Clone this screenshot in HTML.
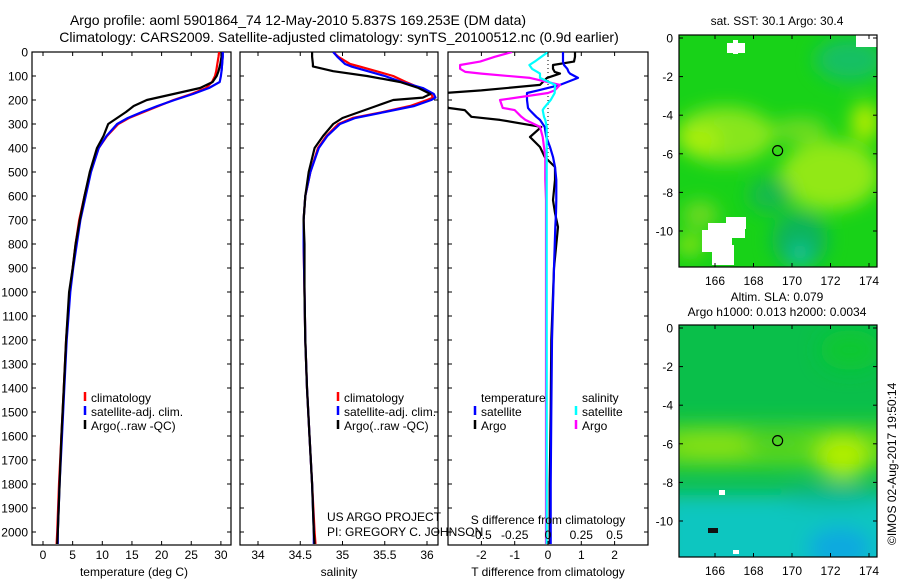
<!DOCTYPE html>
<html><head><meta charset="utf-8"><title>Argo profile</title>
<style>
html,body{margin:0;padding:0;background:#fff;}
svg{display:block;font-family:"Liberation Sans",sans-serif;}
text{fill:#000;}
</style></head>
<body>
<svg id="fig" width="900" height="580" viewBox="0 0 900 580" xmlns="http://www.w3.org/2000/svg">
<defs>
<clipPath id="c1"><rect x="32" y="52" width="199" height="493"/></clipPath>
<clipPath id="c2"><rect x="240" y="52" width="198" height="493"/></clipPath>
<clipPath id="c3"><rect x="448" y="52" width="200" height="493"/></clipPath>
<clipPath id="m1"><rect x="679" y="35" width="198" height="232"/></clipPath>
<clipPath id="m2"><rect x="679" y="325" width="198" height="232"/></clipPath>
<filter id="bl" x="-50%" y="-50%" width="200%" height="200%"><feGaussianBlur stdDeviation="10"/></filter>
<filter id="bl2" x="-50%" y="-50%" width="200%" height="200%"><feGaussianBlur stdDeviation="9"/></filter>
</defs>
<text x="298" y="25" font-size="14" text-anchor="middle">Argo profile: aoml 5901864_74 12-May-2010 5.837S 169.253E (DM data)</text>
<text x="339" y="42" font-size="14" text-anchor="middle">Climatology: CARS2009. Satellite-adjusted climatology: synTS_20100512.nc (0.9d earlier)</text>
<g id="g1"></g>
<g id="g2"></g>
<g id="g3"></g>
<g id="map1" clip-path="url(#m1)">
<rect x="679" y="35" width="198" height="232" fill="#18d218"/>
<g filter="url(#bl2)">
<ellipse cx="725" cy="135" rx="50" ry="28" fill="#88e61c"/>
<ellipse cx="830" cy="175" rx="50" ry="35" fill="#92e814"/>
<ellipse cx="700" cy="140" rx="20" ry="15" fill="#a8ee08"/>
<ellipse cx="865" cy="122" rx="14" ry="20" fill="#b0ec00"/>
<ellipse cx="800" cy="130" rx="28" ry="12" fill="#70dc22"/>
<ellipse cx="850" cy="60" rx="35" ry="22" fill="#14c064"/>
<ellipse cx="800" cy="240" rx="28" ry="28" fill="#10b45c"/>
<ellipse cx="800" cy="255" rx="10" ry="12" fill="#14c49c"/>
<ellipse cx="770" cy="195" rx="22" ry="18" fill="#14ba4c"/>
<ellipse cx="700" cy="215" rx="18" ry="14" fill="#70da22"/>
<ellipse cx="690" cy="245" rx="14" ry="10" fill="#90e414"/>
</g>
<rect x="727" y="43" width="18" height="10" fill="#fff"/>
<rect x="733" y="40" width="5" height="14" fill="#fff"/>
<rect x="856" y="35" width="21" height="12" fill="#fff"/>
<rect x="708" y="223" width="37" height="15" fill="#fff"/>
<rect x="702" y="230" width="30" height="22" fill="#fff"/>
<rect x="712" y="245" width="22" height="20" fill="#fff"/>
<rect x="726" y="217" width="20" height="12" fill="#fff"/>
</g>
<g id="map2" clip-path="url(#m2)">
<rect x="679" y="325" width="198" height="232" fill="#0abf4a"/>
<g filter="url(#bl)">
<rect x="660" y="425" width="240" height="42" fill="#5ad81c"/>
<ellipse cx="715" cy="445" rx="45" ry="14" fill="#84e012"/>
<ellipse cx="843" cy="457" rx="26" ry="22" fill="#b0ee00"/>
<ellipse cx="775" cy="440" rx="30" ry="12" fill="#4ed020"/>
<rect x="660" y="495" width="240" height="90" fill="#08c6c0"/>
<ellipse cx="840" cy="548" rx="32" ry="20" fill="#0aa8e0"/>
<ellipse cx="830" cy="495" rx="50" ry="10" fill="#08b88c"/>
<ellipse cx="850" cy="350" rx="30" ry="20" fill="#0cc830"/>
</g>
<rect x="719" y="490" width="6" height="5" fill="#fff"/>
<rect x="708" y="528" width="10" height="5" fill="#111"/>
<rect x="733" y="550" width="6" height="4" fill="#fff"/>
</g>
<g id="mapAxes"></g>
<text transform="translate(896,545) rotate(-90)" font-size="12">©IMOS 02-Aug-2017 19:50:14</text>
<text x="327" y="521" font-size="12">US ARGO PROJECT</text>
<text x="327" y="536" font-size="12">PI: GREGORY C. JOHNSON</text>
</svg>
<script>
// ---------- data ----------
const depthT = [0,20,50,80,100,125,150,175,200,225,250,275,300,350,400,500,600,700,800,900,1000,1200,1400,1600,1800,2000,2050];
const tempArgo = [30.1,30.1,29.9,29.6,29.3,28.6,26.5,22.0,17.5,15.3,14.0,12.5,11.0,10.2,9.1,7.9,7.0,6.2,5.5,5.0,4.4,3.9,3.5,3.1,2.8,2.5,2.4];
const tempClim = [29.7,29.6,29.4,29.2,29.0,28.5,27.5,25.0,22.0,19.5,17.0,14.5,12.7,10.8,9.4,8.0,7.0,6.1,5.5,5.0,4.5,3.9,3.5,3.1,2.7,2.4,2.3];
const tempSat = [30.3,30.3,30.2,30.1,30.0,29.8,28.0,25.3,22.2,19.3,16.7,14.3,12.5,10.7,9.4,8.1,7.2,6.3,5.7,5.1,4.6,4.0,3.6,3.2,2.8,2.5,2.5];
const depthS = [0,20,50,60,80,100,125,150,175,190,200,225,250,275,300,350,400,500,600,700,800,1000,1200,1400,1600,1800,2000,2050];
const salArgo = [34.64,34.64,34.65,34.65,34.89,35.29,35.68,35.90,36.04,35.95,35.6,35.4,35.2,35.0,34.89,34.77,34.67,34.60,34.56,34.54,34.55,34.55,34.56,34.58,34.61,34.64,34.66,34.67];
const salClim = [34.89,34.95,35.09,35.2,35.4,35.6,35.75,35.92,36.05,36.07,36.0,35.8,35.48,35.12,34.95,34.81,34.71,34.62,34.56,34.54,34.54,34.55,34.56,34.58,34.61,34.64,34.67,34.68];
const salSat = [34.89,34.94,35.03,35.1,35.3,35.5,35.7,35.95,36.08,36.1,36.05,35.85,35.5,35.15,34.97,34.82,34.72,34.62,34.56,34.54,34.54,34.55,34.56,34.58,34.61,34.64,34.66,34.66];
const depthD = [0,20,40,54,70,83,90,108,137,160,171,200,233,242,270,283,312,354,396,437,479,533,617,671,729,900,1200,1500,1800,2050];
const tDiffArgo = [0.81,0.81,0.78,0.15,0.15,0.2,0.36,-0.03,-0.24,-2.0,-3.1,-3.1,-3.0,-2.5,-2.3,-1.44,-0.2,-0.54,-0.24,-0.1,0.21,0.21,0.15,0.21,0.3,0.18,0.1,0.08,0.05,0.05];
const tDiffSat = [0.45,0.45,0.45,0.48,0.58,0.62,0.66,0.9,0.36,-0.3,-0.63,-0.63,-0.6,-0.55,-0.35,-0.24,-0.1,-0.05,0.06,0.15,0.21,0.25,0.25,0.24,0.22,0.18,0.12,0.1,0.08,0.08];
const sDiffArgo = [-0.27,-0.4,-0.51,-0.66,-0.66,-0.62,-0.5,-0.135,0.09,0.05,0.0,-0.36,-0.34,-0.25,-0.2,-0.17,-0.06,-0.04,-0.03,-0.02,-0.02,-0.02,-0.015,-0.015,-0.015,-0.015,-0.015,-0.015,-0.015,-0.015];
const sDiffSat = [0.0,-0.05,-0.1,-0.14,-0.12,-0.08,-0.06,-0.06,0.055,0.05,0.05,0.02,-0.03,-0.04,-0.03,-0.02,-0.01,-0.01,-0.01,-0.01,-0.01,-0.01,-0.01,-0.01,-0.01,-0.01,-0.01,-0.01,-0.01,-0.01];
const depthTicks = [0,100,200,300,400,500,600,700,800,900,1000,1100,1200,1300,1400,1500,1600,1700,1800,1900,2000];
const tempTicks = [0,5,10,15,20,25,30];
const salTicks = [34,34.5,35,35.5,36];
const tDiffTicks = [-2,-1,0,1,2];
const sDiffTicks = [-0.5,-0.25,0,0.25,0.5];
const sDiffTickLabels = ["-0.5","-0.25","0","0.25","0.5"];
const lonTicks = [166,168,170,172,174];
const latTicks = [0,-2,-4,-6,-8,-10];
const argoLon = 169.253, argoLat = -5.837;

// ---------- scales ----------
const NS = "http://www.w3.org/2000/svg";
const yD = d => 52 + d * 0.24;
const xT = t => 43 + t * 5.93;
const xS = s => 258 + (s - 34) * 84.5;
const xTD = v => 548 + v * 33.3;
const xSD = v => 548 + v * 133.2;
const xLon = l => 715 + (l - 166) * 19.25;
const yLat1 = l => 38 - l * 19.3;
const yLat2 = l => 328 - l * 19.3;

function mk(tag, attrs, parent) {
  const e = document.createElementNS(NS, tag);
  for (const k in attrs) e.setAttribute(k, attrs[k]);
  parent.appendChild(e);
  return e;
}
function txt(s, x, y, anchor, size, parent) {
  const t = mk("text", {x: x, y: y, "text-anchor": anchor, "font-size": size}, parent);
  t.textContent = s;
  return t;
}
function profile(xs, ds, xf, color, parent, name) {
  const pts = xs.map((v, i) => xf(v).toFixed(1) + "," + yD(ds[i]).toFixed(1)).join(" ");
  const p = mk("polyline", {points: pts, fill: "none", stroke: color, "stroke-width": 2.2, "stroke-linejoin": "round"}, parent);
  
  
  return p;
}
function frame(g, x0, x1, withDepthLabels) {
  const r = mk("rect", {x: x0, y: 52, width: x1 - x0, height: 493, fill: "none", stroke: "#000", "stroke-width": 1.2}, g);
  
  
  depthTicks.forEach(d => {
    mk("line", {x1: x0, x2: x0 + 4, y1: yD(d), y2: yD(d), stroke: "#000"}, g);
    mk("line", {x1: x1 - 4, x2: x1, y1: yD(d), y2: yD(d), stroke: "#000"}, g);
    if (withDepthLabels) {
      const t = txt(String(d), x0 - 4, yD(d) + 4.5, "end", 12, g);
      
      
    }
  });
}
function xticks(g, vals, labels, xf, y) {
  vals.forEach((v, i) => {
    mk("line", {x1: xf(v), x2: xf(v), y1: 545, y2: 541, stroke: "#000"}, g);
    mk("line", {x1: xf(v), x2: xf(v), y1: 52, y2: 56, stroke: "#000"}, g);
    const t = txt(labels[i], xf(v), y, "middle", 12, g);
    
    
  });
}
function legendEntry(g, x, y, color, label) {
  const gg = mk("g", {}, g);
  
  
  if (color) mk("line", {x1: x - 6, x2: x - 6, y1: y - 10, y2: y - 1, stroke: color, "stroke-width": 2.5}, gg);
  txt(label, x, y, "start", 12, gg);
}

// ---------- panel 1 ----------
const g1 = document.getElementById("g1");
frame(g1, 32, 231, true);
const c1 = mk("g", {"clip-path": "url(#c1)"}, g1);
profile(tempClim, depthT, xT, "#f00", c1, "temp-climatology-line");
profile(tempSat, depthT, xT, "#00f", c1, "temp-satellite-line");
profile(tempArgo, depthT, xT, "#000", c1, "temp-argo-line");
profile(tempSat.slice(0, 4), depthT.slice(0, 4), xT, "#00f", c1, "temp-satellite-top");
xticks(g1, tempTicks, tempTicks.map(String), xT, 559);
const xl1 = txt("temperature (deg C)", 134, 576, "middle", 12, g1);


legendEntry(g1, 91, 402, "#f00", "climatology");
legendEntry(g1, 91, 416, "#00f", "satellite-adj. clim.");
legendEntry(g1, 91, 430, "#000", "Argo(..raw -QC)");

// ---------- panel 2 ----------
const g2 = document.getElementById("g2");
frame(g2, 240, 438, false);
const c2 = mk("g", {"clip-path": "url(#c2)"}, g2);
profile(salClim, depthS, xS, "#f00", c2, "sal-climatology-line");
profile(salSat, depthS, xS, "#00f", c2, "sal-satellite-line");
profile(salArgo, depthS, xS, "#000", c2, "sal-argo-line");
xticks(g2, salTicks, salTicks.map(String), xS, 559);
const xl2 = txt("salinity", 339, 576, "middle", 12, g2);


legendEntry(g2, 344, 402, "#f00", "climatology");
legendEntry(g2, 344, 416, "#00f", "satellite-adj. clim.");
legendEntry(g2, 344, 430, "#000", "Argo(..raw -QC)");

// ---------- panel 3 ----------
const g3 = document.getElementById("g3");
frame(g3, 448, 648, false);
const c3 = mk("g", {"clip-path": "url(#c3)"}, g3);
mk("line", {x1: xTD(0), x2: xTD(0), y1: 52, y2: 160, stroke: "#000", "stroke-dasharray": "1,3"}, c3);
profile(tDiffArgo, depthD, xTD, "#000", c3, "tdiff-argo-line");
profile(tDiffSat, depthD, xTD, "#00f", c3, "tdiff-satellite-line");
profile(sDiffArgo, depthD, xSD, "#f0f", c3, "sdiff-argo-line");
profile(sDiffSat, depthD, xSD, "#0ff", c3, "sdiff-satellite-line");
xticks(g3, tDiffTicks, tDiffTicks.map(String), xTD, 559);
sDiffTicks.forEach((v, i) => {
  const t = txt(sDiffTickLabels[i], xSD(v), 539, "middle", 12, g3);
  
  
});
const sl = txt("S difference from climatology", 548, 524, "middle", 12, g3);


const xl3 = txt("T difference from climatology", 548, 576, "middle", 12, g3);


legendEntry(g3, 481, 402, null, "temperature");
legendEntry(g3, 481, 416, "#00f", "satellite");
legendEntry(g3, 481, 430, "#000", "Argo");
legendEntry(g3, 582, 402, null, "salinity");
legendEntry(g3, 582, 416, "#0ff", "satellite");
legendEntry(g3, 582, 430, "#f0f", "Argo");

// ---------- maps ----------
const ma = document.getElementById("mapAxes");
function mapAxes(y0, yLat, title1, title2) {
  mk("rect", {x: 679, y: y0, width: 198, height: 232, fill: "none", stroke: "#000", "stroke-width": 1.2}, ma);
  lonTicks.forEach(l => {
    mk("line", {x1: xLon(l), x2: xLon(l), y1: y0, y2: y0 + 4, stroke: "#000"}, ma);
    mk("line", {x1: xLon(l), x2: xLon(l), y1: y0 + 232, y2: y0 + 228, stroke: "#000"}, ma);
    const t = txt(String(l), xLon(l), y0 + 250, "middle", 12, ma);
    
    
  });
  latTicks.forEach(l => {
    mk("line", {x1: 679, x2: 683, y1: yLat(l), y2: yLat(l), stroke: "#000"}, ma);
    mk("line", {x1: 877, x2: 873, y1: yLat(l), y2: yLat(l), stroke: "#000"}, ma);
    const t = txt(String(l), 673, yLat(l) + 4.5, "end", 12, ma);
    
    
  });
  const c = mk("circle", {cx: xLon(argoLon), cy: yLat(argoLat), r: 5, fill: "none", stroke: "#000", "stroke-width": 1.2}, ma);
  
  
  const t1 = txt(title1, 777, title2 ? y0 - 24 : y0 - 10, "middle", 12, ma);
  
  
  if (title2) {
    const t2 = txt(title2, 777, y0 - 9, "middle", 12, ma);
    
    
  }
}
mapAxes(35, yLat1, "sat. SST: 30.1 Argo: 30.4", null);
mapAxes(325, yLat2, "Altim. SLA: 0.079", "Argo h1000: 0.013 h2000: 0.0034");
</script>
</body></html>
